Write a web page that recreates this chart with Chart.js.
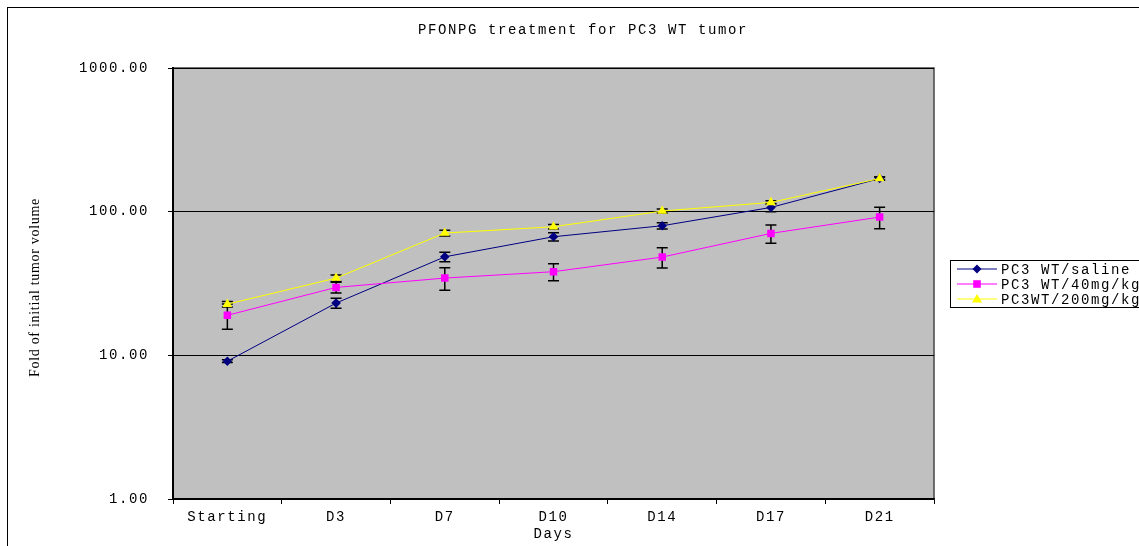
<!DOCTYPE html>
<html>
<head>
<meta charset="utf-8">
<script src="https://cdn.jsdelivr.net/npm/chart.js@4.4.1/dist/chart.umd.min.js"></script>
<style>
  html, body { margin: 0; padding: 0; background: #fff; overflow: hidden; width: 1139px; height: 546px; }
  #frame { position: absolute; left: 7px; top: 7px; width: 1148px; height: 560px; border: 1px solid #000; }
  canvas { display: block; }
</style>
</head>
<body>
<div id="frame"><canvas id="c" width="1148" height="560"></canvas></div>
<script>
// data
const days = ["Starting", "D3", "D7", "D10", "D14", "D17", "D21"];
const seriesNames = ["PC3 WT/saline", "PC3 WT/40mg/kg", "PC3WT/200mg/kg"];
const saline    = [9.1, 23.1, 48.5, 66.9, 79.8, 107, 170];
const salineErr = [0.2, 1.85, 3.75, 4.35, 4.0, 7.0, 4.5];
const mg40      = [19.0, 29.7, 34.5, 38.2, 48.3, 70.6, 91.7];
const mg40Err   = [3.8, 2.5, 6.15, 5.15, 7.75, 10.3, 15.5];
const mg200     = [22.7, 34.5, 71.0, 78.5, 101, 116, 170];
const mg200Err  = [1.0, 1.8, 3.2, 2.8, 3.3, 3.0, 4.0];
const yTicks    = [1, 10, 100, 1000];
const chartTitle = "PFONPG treatment for PC3 WT tumor";
const yTitle = "Fold of initial tumor volume";

const MONO = "'Liberation Mono', 'DejaVu Sans Mono', monospace";
const SPACING = "1.6px";
const FS = 14;

const C = {
  plotBg:  "#c0c0c0",
  saline:  "#000080",
  mg40:    "#ff00ff",
  mg200:   "#ffff00",
  err:     "#000000",
};

const errs = [salineErr, mg40Err, mg200Err];
const markers = ["rectRot", "rect", "triangle"];

// letter spacing for the wide CJK-style text
const spacingPlugin = {
  id: "spacing",
  beforeUpdate(chart) { chart.ctx.letterSpacing = SPACING; },
  beforeDraw(chart) { chart.ctx.letterSpacing = SPACING; },
};

// grey plot background
const plotBgPlugin = {
  id: "plotBg",
  beforeDraw(chart) {
    const { ctx, chartArea: a } = chart;
    ctx.save();
    ctx.fillStyle = C.plotBg;
    ctx.fillRect(a.left, a.top, a.right - a.left, a.bottom - a.top);
    ctx.strokeStyle = "#444";
    ctx.lineWidth = 1.5;
    ctx.strokeRect(a.left, a.top, a.right - a.left, a.bottom - a.top);
    ctx.restore();
  },
};

// error bars, drawn behind the lines
const errorBarPlugin = {
  id: "errorBars",
  beforeDatasetsDraw(chart) {
    const ctx = chart.ctx;
    const xs = chart.scales.x, ys = chart.scales.y;
    ctx.save();
    ctx.strokeStyle = C.err;
    ctx.lineWidth = 1.5;
    chart.data.datasets.forEach((ds, di) => {
      ds.data.forEach((v, i) => {
        const e = errs[di][i];
        const x = xs.getPixelForValue(i);
        const y1 = ys.getPixelForValue(v + e);
        const y2 = ys.getPixelForValue(v - e);
        ctx.beginPath();
        ctx.moveTo(x, y1); ctx.lineTo(x, y2);
        ctx.moveTo(x - 5.5, y1); ctx.lineTo(x + 5.5, y1);
        ctx.moveTo(x - 5.5, y2); ctx.lineTo(x + 5.5, y2);
        ctx.stroke();
      });
    });
    ctx.restore();
  },
};

function drawMarker(ctx, style, x, y, color) {
  ctx.fillStyle = color;
  ctx.beginPath();
  if (style === "rectRot") {
    ctx.moveTo(x, y - 4.5); ctx.lineTo(x + 4.5, y); ctx.lineTo(x, y + 4.5); ctx.lineTo(x - 4.5, y);
  } else if (style === "rect") {
    ctx.rect(x - 3.8, y - 3.8, 7.6, 7.6);
  } else {
    ctx.moveTo(x, y - 5); ctx.lineTo(x + 5, y + 3.5); ctx.lineTo(x - 5, y + 3.5);
  }
  ctx.closePath();
  ctx.fill();
}

// centred title, boxed legend to the right of the plot, rotated y title
const sidePlugin = {
  id: "side",
  afterDraw(chart) {
    const { ctx, chartArea: a } = chart;
    ctx.save();
    ctx.fillStyle = "#000";
    ctx.font = FS + "px " + MONO;
    ctx.textBaseline = "middle";
    ctx.textAlign = "center";
    ctx.fillText(chartTitle, chart.width / 2 + 1, 22);

    const bx = a.right + 16, by = a.top + 192;
    ctx.strokeStyle = "#000";
    ctx.lineWidth = 1;
    ctx.strokeRect(bx + 0.5, by + 0.5, 260, 47);
    ctx.textAlign = "left";
    chart.data.datasets.forEach((ds, i) => {
      const y = by + 9 + i * 15;
      ctx.strokeStyle = ds.borderColor;
      ctx.lineWidth = 1;
      ctx.beginPath(); ctx.moveTo(bx + 7, y); ctx.lineTo(bx + 47, y); ctx.stroke();
      drawMarker(ctx, markers[i], bx + 27, y, ds.borderColor);
      ctx.fillStyle = "#000";
      ctx.fillText(ds.label, bx + 51, y + 1);
    });

    ctx.letterSpacing = "0.7px";
    ctx.translate(27, (a.top + a.bottom) / 2 + 4);
    ctx.rotate(-Math.PI / 2);
    ctx.textAlign = "center";
    ctx.font = "14px 'Liberation Serif', serif";
    ctx.fillStyle = "#000";
    ctx.fillText(yTitle, 0, 0);
    ctx.restore();
  },
};

const series = [saline, mg40, mg200];
const colors = [C.saline, C.mg40, C.mg200];
const radii = [4.8, 5.3, 5.6];

new Chart(document.getElementById("c"), {
  type: "line",
  data: {
    labels: days,
    datasets: series.map((d, i) => ({
      label: seriesNames[i],
      data: d,
      borderColor: colors[i],
      backgroundColor: colors[i],
      borderWidth: 1,
      pointStyle: markers[i],
      pointRadius: radii[i],
      pointBorderWidth: 0,
      tension: 0,
      order: 2 - i,
    })),
  },
  options: {
    responsive: false,
    animation: false,
    layout: { padding: { left: 0, right: 222, top: 60, bottom: 0 } },
    plugins: {
      legend: { display: false },
      tooltip: { enabled: false },
      title: { display: false },
    },
    scales: {
      x: {
        offset: true,
        grid: { offset: true, drawOnChartArea: false, color: "#000", tickLength: 5 },
        border: { color: "#000", width: 1.5 },
        ticks: { color: "#000", padding: 5, font: { family: MONO, size: FS }, maxRotation: 0 },
        title: { display: true, text: "Days", color: "#000", font: { family: MONO, size: FS }, padding: { top: 0, bottom: 25 } },
        afterFit(s) { s.height = 69; },
      },
      y: {
        type: "logarithmic",
        min: 1,
        max: 1000,
        grid: { color: "#000", tickLength: 5 },
        border: { color: "#000", width: 2 },
        ticks: { color: "#000", padding: 19, font: { family: MONO, size: FS }, callback: (v) => Number(v).toFixed(2) },
        afterBuildTicks(s) { s.ticks = yTicks.map((v) => ({ value: v })); },
        afterFit(s) { s.width = 165; },
      },
    },
  },
  plugins: [spacingPlugin, plotBgPlugin, errorBarPlugin, sidePlugin],
});
</script>
</body>
</html>
